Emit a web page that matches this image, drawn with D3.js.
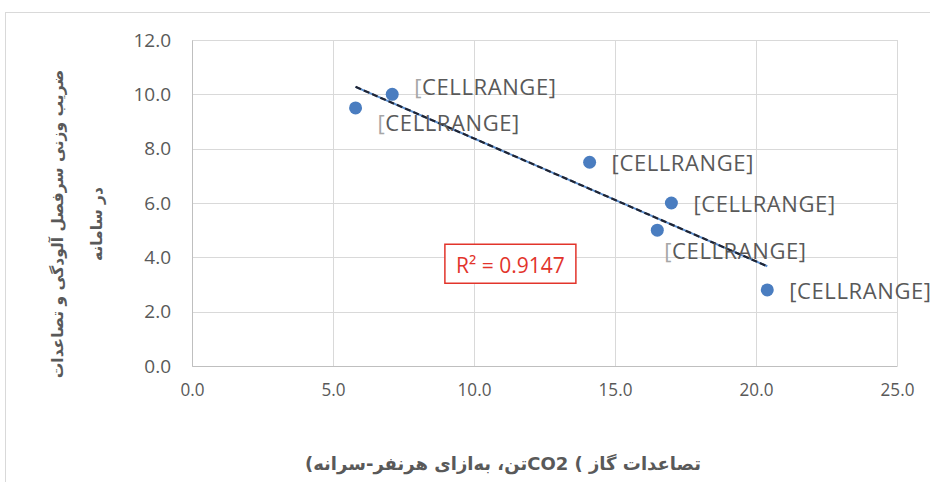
<!DOCTYPE html>
<html>
<head>
<meta charset="utf-8">
<script src="https://cdn.jsdelivr.net/npm/d3@7"></script>
<style>
  body { margin: 0; background: #fff; }
  svg { display: block; }
</style>
</head>
<body>
<svg id="chart" width="930" height="482"></svg>
<script>
"use strict";

// values
const co2 = [5.8, 7.1, 14.1, 17.0, 16.5, 20.4];
const weight = [9.5, 10.0, 7.5, 6.0, 5.0, 2.8];
const labels = ["[CELLRANGE]", "[CELLRANGE]", "[CELLRANGE]", "[CELLRANGE]", "[CELLRANGE]", "[CELLRANGE]"];
// where each data label sits relative to its point (dx, dy) and if its bracket is faded
const labelOffsets = [[22, 14], [22, -8], [22, 0], [22, 0], [7, 20], [22, 0]];
const fadedBracket = [true, true, false, false, true, false];
const xTicks = [0, 5, 10, 15, 20, 25];
const yTicks = [0, 2, 4, 6, 8, 10, 12];
const rSquaredText = "R² = 0.9147";
const yTitle = ["ضریب وزنی سرفصل آلودگی و تصاعدات", "در سامانه"];
const xTitle = "تصاعدات گاز ) CO2تن، به‌ازای هرنفر-سرانه)";

window.addEventListener("load", drawChart);

function drawChart() {
  const svg = d3.select("#chart");
  const margin = { top: 40, right: 33, bottom: 116, left: 192 };
  const width = 930 - margin.left - margin.right;
  const height = 482 - margin.top - margin.bottom;
  const grey = "#595959";
  const gridColor = "#d9d9d9";

  // outer chart frame
  svg.append("rect")
    .attr("x", 5.5).attr("y", 12.5)
    .attr("width", 940).attr("height", 480)
    .attr("fill", "none").attr("stroke", gridColor);

  const g = svg.append("g").attr("transform", `translate(${margin.left},${margin.top})`);

  const x = d3.scaleLinear().domain([0, 25]).range([0, width]);
  const y = d3.scaleLinear().domain([0, 12]).range([height, 0]);

  // grid
  g.append("g")
    .selectAll("line")
    .data(yTicks)
    .join("line")
    .attr("x1", 0).attr("x2", width)
    .attr("y1", (d) => Math.round(y(d)) + 0.5).attr("y2", (d) => Math.round(y(d)) + 0.5)
    .attr("stroke", gridColor);

  g.append("g")
    .selectAll("line")
    .data(xTicks)
    .join("line")
    .attr("y1", 0).attr("y2", height)
    .attr("x1", (d) => Math.round(x(d)) + 0.5).attr("x2", (d) => Math.round(x(d)) + 0.5)
    .attr("stroke", gridColor);

  // axes (only the labels and the base lines show)
  const yAxis = g.append("g")
    .call(d3.axisLeft(y).tickValues(yTicks).tickFormat(d3.format(".1f")).tickSize(0).tickPadding(21));
  const xAxis = g.append("g")
    .attr("transform", `translate(0,${height})`)
    .call(d3.axisBottom(x).tickValues(xTicks).tickFormat(d3.format(".1f")).tickSize(0).tickPadding(17));

  [yAxis, xAxis].forEach((a) => {
    a.select(".domain").attr("stroke", "#bfbfbf");
    a.selectAll("text")
      .attr("fill", grey)
      .style("font-family", "'Open Sans', sans-serif")
      .style("font-size", "19px");
  });
  xAxis.selectAll("text").attr("transform", "scale(0.9,1)");

  // trendline from least squares fit
  const mx = d3.mean(co2);
  const my = d3.mean(weight);
  const sxy = d3.sum(co2, (v, i) => (v - mx) * (weight[i] - my));
  const sxx = d3.sum(co2, (v) => (v - mx) * (v - mx));
  const slope = sxy / sxx;
  const intercept = my - slope * mx;
  const ends = d3.extent(co2);
  const fit = ends.map((v) => [x(v), y(intercept + slope * v)]);

  g.append("line")
    .attr("x1", fit[0][0]).attr("y1", fit[0][1])
    .attr("x2", fit[1][0]).attr("y2", fit[1][1])
    .attr("stroke", "#5b8fd0").attr("stroke-width", 2);
  g.append("line")
    .attr("x1", fit[0][0]).attr("y1", fit[0][1])
    .attr("x2", fit[1][0]).attr("y2", fit[1][1])
    .attr("stroke", "#1f2433").attr("stroke-width", 2.2)
    .attr("stroke-dasharray", "6,3");

  // points
  g.append("g")
    .selectAll("circle")
    .data(co2)
    .join("circle")
    .attr("cx", (d) => x(d))
    .attr("cy", (d, i) => y(weight[i]))
    .attr("r", 6.5)
    .attr("fill", "#4a7dc0");

  // data labels
  const lab = g.append("g")
    .selectAll("text")
    .data(co2)
    .join("text")
    .attr("x", (d, i) => x(d) + labelOffsets[i][0])
    .attr("y", (d, i) => y(weight[i]) + labelOffsets[i][1])
    .attr("dominant-baseline", "central")
    .attr("fill", grey)
    .style("font-family", "'Open Sans', sans-serif")
    .style("font-size", "22px")
    .style("letter-spacing", "0.6px");
  lab.append("tspan")
    .attr("fill", (d, i) => (fadedBracket[i] ? "#a6a6a6" : grey))
    .text((d, i) => labels[i].slice(0, 1));
  lab.append("tspan").text((d, i) => labels[i].slice(1));

  // R squared box
  const rg = g.append("g").attr("transform", `translate(${x(8.95)},${y(4.5)})`);
  rg.append("rect")
    .attr("x", 0.5).attr("y", 0.5)
    .attr("width", 131).attr("height", 39)
    .attr("fill", "#fff")
    .attr("stroke", "#e2342b").attr("stroke-width", 1.5);
  rg.append("text")
    .attr("x", 66).attr("y", 21)
    .attr("text-anchor", "middle")
    .attr("dominant-baseline", "central")
    .attr("fill", "#e2342b")
    .style("font-family", "'Open Sans', sans-serif")
    .style("font-size", "21px")
    .text(rSquaredText);

  // axis titles
  const yt = svg.append("text")
    .attr("transform", `translate(63,224) rotate(-90)`)
    .attr("text-anchor", "middle")
    .attr("fill", grey)
    .attr("direction", "rtl")
    .style("font-family", "'DejaVu Sans', sans-serif")
    .style("font-weight", "bold")
    .style("font-size", "15.5px");
  yt.selectAll("tspan")
    .data(yTitle)
    .join("tspan")
    .attr("x", 0)
    .attr("dy", (d, i) => (i === 0 ? 0 : 39))
    .text((d) => d);

  svg.append("text")
    .attr("x", 503).attr("y", 470)
    .attr("text-anchor", "middle")
    .attr("direction", "rtl")
    .attr("fill", grey)
    .style("font-family", "'DejaVu Sans', sans-serif")
    .style("font-weight", "bold")
    .style("font-size", "18px")
    .text(xTitle);
}
</script>
</body>
</html>
